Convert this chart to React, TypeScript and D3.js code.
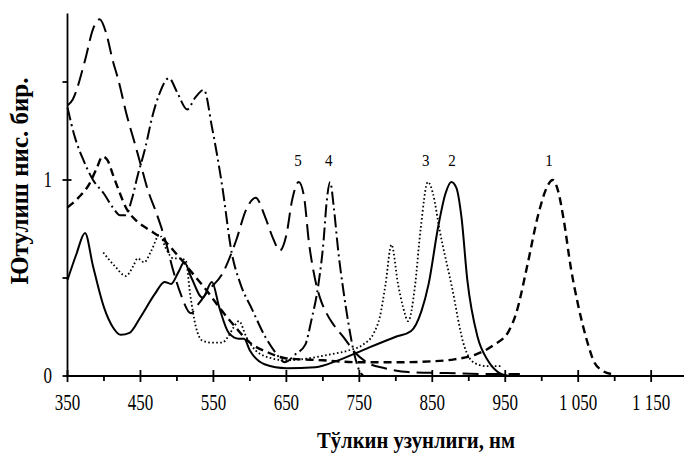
import React from "react";
import * as d3 from "d3";

// Curve 1 (dashed)
const wl1 = [350, 365, 380, 390, 398, 405, 412, 420, 430, 445, 460, 480, 500, 520, 540, 560, 580, 600, 625, 650, 700, 750, 800, 850, 880, 910, 935, 955, 965, 980, 995, 1008, 1015, 1022, 1030, 1040, 1050, 1062, 1072, 1082, 1095];
const ab1 = [0.86, 0.91, 0.98, 1.06, 1.12, 1.1, 1.03, 0.95, 0.86, 0.79, 0.75, 0.7, 0.62, 0.53, 0.44, 0.34, 0.25, 0.17, 0.12, 0.09, 0.08, 0.07, 0.07, 0.075, 0.085, 0.11, 0.16, 0.23, 0.32, 0.56, 0.82, 0.97, 1.0, 0.95, 0.8, 0.55, 0.36, 0.18, 0.07, 0.03, 0.01];
// Curve 2 (solid)
const wl2 = [350, 362, 374, 385, 400, 412, 423, 435, 450, 470, 483, 492, 502, 510, 520, 535, 548, 558, 571, 585, 592, 600, 620, 650, 690, 721, 760, 800, 821, 835, 845, 858, 868, 876, 883, 890, 898, 912, 926, 940, 955];
const ab2 = [0.49, 0.62, 0.73, 0.56, 0.35, 0.25, 0.21, 0.22, 0.3, 0.42, 0.48, 0.47, 0.53, 0.58, 0.5, 0.4, 0.48, 0.35, 0.22, 0.19, 0.19, 0.13, 0.06, 0.04, 0.045, 0.08, 0.14, 0.2, 0.23, 0.33, 0.47, 0.76, 0.93, 0.99, 0.96, 0.81, 0.49, 0.2, 0.08, 0.02, 0];
// Curve 3 (dotted)
const wl3 = [399, 415, 430, 440, 446, 455, 465, 476, 485, 495, 503, 512, 518, 526, 535, 548, 562, 570, 578, 585, 595, 608, 630, 649, 680, 710, 735, 755, 770, 778, 786, 794, 803, 810, 817, 826, 834, 844, 851, 860, 876, 894, 908, 925, 944];
const ab3 = [0.63, 0.56, 0.51, 0.56, 0.6, 0.58, 0.64, 0.72, 0.65, 0.6, 0.6, 0.59, 0.42, 0.25, 0.18, 0.17, 0.17, 0.2, 0.25, 0.28, 0.2, 0.13, 0.09, 0.08, 0.09, 0.11, 0.13, 0.16, 0.22, 0.3, 0.47, 0.67, 0.47, 0.35, 0.28, 0.45, 0.75, 0.99, 0.93, 0.745, 0.47, 0.15, 0.066, 0.05, 0.05];
// Curve 4 (dash-dot)
const wl4 = [350, 360, 372, 385, 400, 412, 422, 430, 438, 446, 457, 466, 476, 489, 500, 514, 525, 537, 548, 562, 575, 587, 603, 621, 635, 648, 662, 676, 684, 694, 701, 705, 710, 715, 721, 728, 735, 742, 751, 756];
const ab4 = [1.37, 1.22, 1.1, 1.0, 0.93, 0.86, 0.82, 0.82, 0.9, 1.02, 1.17, 1.32, 1.44, 1.52, 1.45, 1.36, 1.42, 1.46, 1.27, 0.97, 0.63, 0.47, 0.34, 0.2, 0.12, 0.07, 0.11, 0.16, 0.28, 0.47, 0.69, 0.88, 0.99, 0.86, 0.64, 0.44, 0.27, 0.13, 0.02, 0];
// Curve 5 (long dash)
const wl5 = [350, 357, 374, 385, 394, 403, 412, 419, 432, 442, 451, 460, 471, 485, 494, 505, 519, 530, 544, 562, 581, 595, 608, 620, 632, 641, 650, 658, 667, 674, 681, 689, 696, 705, 715, 728, 744, 762, 785, 817, 870, 930, 970];
const ab5 = [1.38, 1.41, 1.61, 1.77, 1.82, 1.75, 1.61, 1.52, 1.32, 1.19, 1.07, 0.95, 0.84, 0.68, 0.55, 0.42, 0.32, 0.37, 0.44, 0.52, 0.69, 0.85, 0.91, 0.82, 0.7, 0.64, 0.72, 0.9, 0.99, 0.92, 0.68, 0.5, 0.4, 0.32, 0.26, 0.2, 0.12, 0.066, 0.04, 0.02, 0.015, 0.01, 0.01];

const curveNames = ["1", "2", "3", "4", "5"];
const curveLabelWl = [1010, 877, 841, 708, 666];
const curveLabelVal = [1.07, 1.07, 1.07, 1.07, 1.07];

const xTicks = [350, 450, 550, 650, 750, 850, 950, 1050, 1150];
const xTickLabels = ["350", "450", "550", "650", "750", "850", "950", "1 050", "1 150"];
const xMinorTicks = [400, 500, 600, 700, 800, 900, 1000, 1100];
const yTicks = [0, 0.5, 1, 1.5];
const yTickLabels = ["0", "", "1", ""];

const xTitle = "Тўлкин узунлиги, нм";
const yTitle = "Ютулиш нис. бир.";

const FONT = "'Liberation Serif', 'Times New Roman', serif";

export default function App() {
  const x = d3.scaleLinear().domain([350, 1195]).range([67.5, 684]);
  const y = d3.scaleLinear().domain([0, 1.85]).range([376, 13.4]);
  const line = d3
    .line<[number, number]>()
    .x((d) => x(d[0]))
    .y((d) => y(d[1]))
    .curve(d3.curveMonotoneX);

  const zip = (a: number[], b: number[]) => a.map((v, i) => [v, b[i]] as [number, number]);

  const series = [
    { d: zip(wl1, ab1), dash: "8,5", w: 2.4 },
    { d: zip(wl2, ab2), dash: "none", w: 2 },
    { d: zip(wl3, ab3), dash: "1.6,2.4", w: 1.8 },
    { d: zip(wl4, ab4), dash: "13,4,2,4", w: 2 },
    { d: zip(wl5, ab5), dash: "16,7", w: 2 },
  ];

  const y0 = y(0);
  const x0 = x(350);

  return (
    <svg
      width={685}
      height={454}
      style={{ position: "absolute", left: 0, top: 0, background: "#fff" }}
      fontFamily={FONT}
    >
      <rect width={685} height={454} fill="#fff" />
      {series.map((s, i) => (
        <path
          key={i}
          d={line(s.d) || ""}
          fill="none"
          stroke="#000"
          strokeWidth={s.w}
          strokeDasharray={s.dash}
          strokeLinecap="butt"
        />
      ))}
      {/* axes */}
      <line x1={x0} x2={x0} y1={y(1.85)} y2={y0 + 1} stroke="#000" strokeWidth={1.8} />
      <line x1={x0 - 1} x2={684} y1={y0} y2={y0} stroke="#000" strokeWidth={2} />
      {xTicks.map((t) => (
        <line key={"xt" + t} x1={x(t)} x2={x(t)} y1={y0 - 6} y2={y0 + 6} stroke="#000" strokeWidth={1.8} />
      ))}
      {xMinorTicks.map((t) => (
        <line key={"xm" + t} x1={x(t)} x2={x(t)} y1={y0} y2={y0 + 5} stroke="#000" strokeWidth={1.8} />
      ))}
      {xTicks.map((t, i) => (
        <g key={"xl" + t} transform={`translate(${x(t)},410) scale(1,1.3)`}>
          <text textAnchor="middle" fontSize={17} fill="#000">
            {xTickLabels[i]}
          </text>
        </g>
      ))}
      {yTicks.map((t, i) => (
        <line
          key={"yt" + t}
          x1={x0 - 5}
          x2={yTickLabels[i] ? x0 + 4 : x0}
          y1={y(t)}
          y2={y(t)}
          stroke="#000"
          strokeWidth={1.8}
        />
      ))}
      {yTicks.map((t, i) =>
        yTickLabels[i] ? (
          <g key={"yl" + t} transform={`translate(52,${y(t) + 7}) scale(1,1.3)`}>
            <text textAnchor="end" fontSize={17} fill="#000">
              {yTickLabels[i]}
            </text>
          </g>
        ) : null
      )}
      {curveNames.map((n, i) => (
        <g key={"cl" + n} transform={`translate(${x(curveLabelWl[i])},${y(curveLabelVal[i])}) scale(1,1.15)`}>
          <text textAnchor="middle" fontSize={15} fill="#000">
            {n}
          </text>
        </g>
      ))}
      <text
        x={317}
        y={448}
        fontSize={24}
        fontWeight="bold"
        textLength={198}
        lengthAdjust="spacingAndGlyphs"
        fill="#000"
      >
        {xTitle}
      </text>
      <text
        transform={`translate(28,181) rotate(-90)`}
        textAnchor="middle"
        fontSize={25}
        fontWeight="bold"
        textLength={207}
        lengthAdjust="spacingAndGlyphs"
        fill="#000"
      >
        {yTitle}
      </text>
    </svg>
  );
}
